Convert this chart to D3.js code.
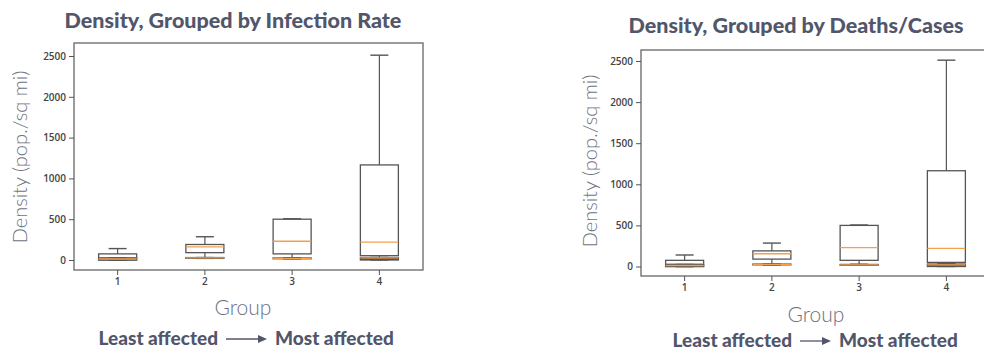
<!DOCTYPE html>
<html>
<head>
<meta charset="utf-8">
<script src="https://cdn.jsdelivr.net/npm/d3@7"></script>
<style>
  body { margin: 0; background: #fff; }
  svg { display: block; }
  .tick text { font-family: "Open Sans", sans-serif; font-size: 10px; fill: #444; font-weight: 600; }
  .tick line { stroke: #555; }
</style>
</head>
<body>
<div id="chart"></div>
<script>
// groups along the x axis
const groups = ["1", "2", "3", "4"];
const yTicks = [0, 500, 1000, 1500, 2000, 2500];

// main boxes: [whisker low, q1, median, q3, whisker high]
const infectionMain = [
  [0, 0, 30, 75, 140],
  [28, 90, 160, 190, 285],
  [28, 75, 230, 500, 505],
  [30, 53, 220, 1165, 2510]
];
// second, near-zero boxes drawn on top
const infectionLow = [
  [0, 0, 12, 25, 25],
  [20, 20, 25, 30, 30],
  [15, 15, 20, 25, 25],
  [0, 0, 25, 30, 30]
];
const deathsMain = [
  [0, 0, 30, 75, 140],
  [25, 90, 155, 190, 285],
  [25, 75, 230, 500, 505],
  [30, 50, 220, 1165, 2510]
];
const deathsLow = [
  [0, 0, 12, 25, 25],
  [20, 20, 25, 30, 30],
  [15, 15, 20, 25, 25],
  [0, 0, 20, 30, 30]
];

const svg = d3.select("#chart").append("svg")
  .attr("width", 984)
  .attr("height", 352);

const textColor = "#52566a";

function panel(opt) {
  const g = svg.append("g");
  const x = d3.scaleBand().domain(groups).range([opt.left, opt.right]);
  const y = d3.scaleLinear().domain([0, 2500]).range([opt.y0, opt.y2500]);

  // frame
  g.append("rect")
    .attr("x", opt.left).attr("y", opt.top)
    .attr("width", opt.right - opt.left).attr("height", opt.bottom - opt.top)
    .attr("fill", "none").attr("stroke", "#666").attr("stroke-width", 1.3);

  g.append("g")
    .attr("transform", `translate(${opt.left},0)`)
    .call(d3.axisLeft(y).tickValues(yTicks).tickFormat(d3.format("d")).tickSize(5).tickPadding(3))
    .call(a => a.select(".domain").remove());

  g.append("g")
    .attr("transform", `translate(0,${opt.bottom})`)
    .call(d3.axisBottom(x).tickSize(5).tickPadding(3))
    .call(a => a.select(".domain").remove());

  const boxW = 38, capW = 18;

  function drawBoxes(data, low) {
    const b = g.append("g").selectAll("g").data(data).join("g")
      .attr("transform", (d, i) => `translate(${x(groups[i]) + x.bandwidth() / 2},0)`);
    // whiskers
    b.append("line").attr("x1", 0).attr("x2", 0)
      .attr("y1", d => y(d[4])).attr("y2", d => y(d[3]))
      .attr("stroke", "#555").attr("stroke-width", 1.2);
    b.append("line").attr("x1", 0).attr("x2", 0)
      .attr("y1", d => y(d[1])).attr("y2", d => y(d[0]))
      .attr("stroke", "#555").attr("stroke-width", 1.2);
    b.append("line").attr("x1", -capW / 2).attr("x2", capW / 2)
      .attr("y1", d => y(d[4])).attr("y2", d => y(d[4]))
      .attr("stroke", "#555").attr("stroke-width", 1.4);
    b.append("line").attr("x1", -capW / 2).attr("x2", capW / 2)
      .attr("y1", d => y(d[0])).attr("y2", d => y(d[0]))
      .attr("stroke", "#555").attr("stroke-width", 1.4);
    b.append("rect")
      .attr("x", -boxW / 2).attr("width", boxW)
      .attr("y", d => y(d[3])).attr("height", d => y(d[1]) - y(d[3]))
      .attr("fill", low ? "#7a4a22" : "none")
      .attr("stroke", "#555").attr("stroke-width", 1.3);
    b.append("line").attr("x1", -boxW / 2).attr("x2", boxW / 2)
      .attr("y1", d => y(d[2])).attr("y2", d => y(d[2]))
      .attr("stroke", "#f5a04e").attr("stroke-width", 1.3);
  }
  drawBoxes(opt.main, false);
  drawBoxes(opt.low, true);

  // title
  g.append("text")
    .attr("x", opt.titleX).attr("y", opt.titleY)
    .attr("text-anchor", "middle")
    .style("font-family", "Lato, sans-serif").style("font-weight", "900")
    .style("font-size", "21.5px").style("fill", textColor)
    .text(opt.title);

  // y label
  g.append("text")
    .attr("transform", `translate(${opt.yLabelX},${opt.yLabelY}) rotate(-90)`)
    .attr("text-anchor", "middle")
    .style("font-family", "Lato, sans-serif").style("font-weight", "300")
    .style("font-size", "20px").style("fill", "#6d7282")
    .text("Density (pop./sq mi)");

  // x label
  g.append("text")
    .attr("x", opt.groupX).attr("y", opt.groupY)
    .attr("text-anchor", "middle")
    .style("font-family", "Lato, sans-serif").style("font-weight", "300")
    .style("font-size", "21px").style("fill", "#6d7282")
    .text("Group");

  // least -> most
  const f = g.append("g").attr("transform", `translate(${opt.noteX},${opt.noteY})`);
  f.append("text").attr("x", -8).attr("text-anchor", "end")
    .style("font-family", "Lato, sans-serif").style("font-weight", "900")
    .style("font-size", "19px").style("fill", textColor)
    .text("Least affected");
  f.append("line").attr("x1", 0).attr("x2", opt.arrow - 4).attr("y1", -6).attr("y2", -6)
    .attr("stroke", textColor).attr("stroke-width", 1.3);
  f.append("path").attr("d", `M${opt.arrow - 8},-10L${opt.arrow + 1},-6L${opt.arrow - 8},-2Z`).attr("fill", textColor);
  f.append("text").attr("x", opt.arrow + 9).attr("text-anchor", "start")
    .style("font-family", "Lato, sans-serif").style("font-weight", "900")
    .style("font-size", "19px").style("fill", textColor)
    .text("Most affected");
}

panel({
  title: "Density, Grouped by Infection Rate",
  main: infectionMain, low: infectionLow,
  left: 74, right: 423, top: 43, bottom: 270,
  y0: 260, y2500: 56,
  titleX: 233, titleY: 28,
  yLabelX: 27, yLabelY: 157,
  groupX: 243, groupY: 315,
  noteX: 226, noteY: 345, arrow: 40
});

panel({
  title: "Density, Grouped by Deaths/Cases",
  main: deathsMain, low: deathsLow,
  left: 641, right: 990, top: 50, bottom: 276,
  y0: 266.5, y2500: 61,
  titleX: 796, titleY: 33,
  yLabelX: 597, yLabelY: 161,
  groupX: 816, groupY: 322,
  noteX: 800, noteY: 347, arrow: 30
});
</script>
</body>
</html>
